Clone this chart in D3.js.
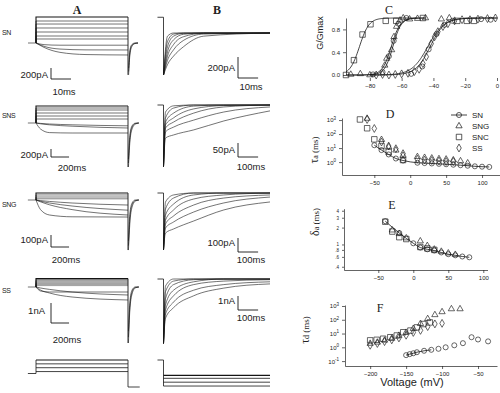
<!DOCTYPE html>
<html>
<head>
<meta charset="utf-8">
<script src="https://cdn.jsdelivr.net/npm/d3@7/dist/d3.min.js"></script>
<style>
  body { margin: 0; background: #fff; }
  svg { display: block; }
  text { font-family: Arial, "Liberation Sans", sans-serif; fill: #222; }
  .tick text { font-size: 6px; }
  .tick line, .domain { stroke: #222; stroke-width: 0.7; }
  .serif { font-family: "Liberation Serif", "DejaVu Serif", serif; }
</style>
</head>
<body>
<svg width="500" height="393"></svg>
<script>
// ---- rows of panels A and B ----
var rowNames = ['SN', 'SNS', 'SNG', 'SS'];
var barCurA = [200, 200, 100, 1];
var barCurALabel = ['200pA', '200pA', '100pA', '1nA'];
var barTimeA = [10, 200, 200, 200];
var barTimeALabel = ['10ms', '200ms', '200ms', '200ms'];
var barCurB = [200, 50, 100, 1];
var barCurBLabel = ['200pA', '50pA', '100pA', '1nA'];
var barTimeB = [10, 100, 100, 100];
var barTimeBLabel = ['10ms', '100ms', '100ms', '100ms'];
var stepDurA = [46, 1020, 1020, 1020];   // ms
var holdLeadA = [-4, -90, -90, -90];     // ms before step
var spanB = [53, 530, 530, 530];         // ms shown in B
var leadB = [-3, -30, -30, -30];
var preB = [150, 0, 0, 0];               // level of the short mark before B

// A: outward steady levels (pA; SS in nA)
var snOut = [473, 400, 345, 273, 200, 127, 73];
var snsOut = [425, 375, 325, 250, 175, 100];
var sngOut = [58, 42, 25, 10];
var ssOut = [0.42, 0.38, 0.33, 0.28, 0.22, 0.17, 0.12, 0.07];

// A: inward traces sampled at shared times
var snInT = [0, 4, 12, 25, 46];
var snIn = [[0, -30, -40, -40, -40], [0, -60, -110, -125, -127], [0, -80, -170, -210, -218]];
var snsInT = [0, 50, 150, 400, 1020];
var snsIn = [[0, -150, -240, -250, -250], [0, -20, -45, -80, -125], [0, -10, -25, -45, -70]];
var sngInT = [0, 50, 150, 400, 1020];
var sngIn = [[0, -80, -125, -140, -142], [0, -15, -40, -80, -125], [0, -10, -25, -50, -85], [0, -5, -12, -25, -42]];
var ssInT = [0, 50, 150, 400, 1020];
var ssIn = [[0, -0.2, -0.25, -0.25, -0.25], [0, -0.05, -0.12, -0.25, -0.4], [0, -0.15, -0.3, -0.5, -0.65]];

// A: tail currents, time after the step end
var snTailT = [0.3, 1, 2, 3.5, 5];
var snTail = [[-580, -200, -60, -10, 0], [-520, -160, -40, -5, 0], [-460, -120, -25, 0, 0]];
var longTailT = [5, 20, 45, 80, 120];
var snsTail = [[-1100, -500, -150, -30, 0], [-1000, -400, -100, -15, 0], [-900, -320, -70, -5, 0]];
var sngTail = [[-417, -200, -60, -10, 0], [-380, -160, -40, -5, 0], [-340, -120, -25, 0, 0]];
var ssTail = [[-2.8, -1.2, -0.35, -0.05, 0], [-2.5, -1.0, -0.25, -0.02, 0], [-2.2, -0.8, -0.15, 0, 0]];

// B: deactivating tails sampled at shared times
var snBT = [0, 2, 5, 10, 20, 53];
var snB = [
  [-400, -30, 0, 0, 0, 0], [-400, -80, -10, 0, 0, 0], [-400, -130, -30, -3, 0, 0],
  [-400, -180, -65, -12, 0, 0], [-400, -220, -110, -35, -3, 0], [-400, -260, -160, -70, -10, 0],
  [-400, -300, -220, -130, -30, 0]];
var longBT = [0, 10, 50, 150, 300, 530];
var snsB = [
  [-220, -25, -3, 0, 0, 0], [-220, -46, -11, 0, 0, 0], [-220, -61, -29, -4, 0, 0],
  [-220, -71, -46, -14, -2, 0], [-220, -82, -61, -29, -7, 0], [-220, -96, -79, -54, -25, -7],
  [-220, -118, -107, -89, -57, -21]];
var sngB = [
  [-407, -64, -14, 0, 0, 0], [-407, -114, -36, 0, 0, 0], [-407, -157, -79, -14, 0, 0],
  [-407, -193, -121, -43, -14, 0], [-407, -221, -164, -86, -36, -14], [-407, -250, -207, -136, -71, -29],
  [-407, -286, -257, -200, -121, -64]];
var ssB = [
  [-4.6, -0.5, 0, 0, 0, 0], [-4.6, -0.9, -0.15, 0, 0, 0], [-4.6, -1.4, -0.4, -0.05, 0, 0],
  [-4.6, -1.85, -0.8, -0.2, 0, 0], [-4.6, -2.2, -1.2, -0.4, -0.15, -0.05], [-4.6, -2.5, -1.65, -0.8, -0.4, -0.2],
  [-4.6, -2.8, -2.05, -1.2, -0.65, -0.35]];

// voltage protocols (mV)
var protoHold = -30, protoStepsA = [40, 20, 0, -20], protoTailA = -100;
var protoPreB = 40, protoStepsB = [-40, -55, -75, -95];

// ---- C: G/Gmax vs voltage ----
var cSNC = [[-95, 0], [-90, 0.26], [-84.6, 0.71], [-79.6, 0.89], [-70, 0.95], [-63.4, 0.95], [-46.6, 1.0], [-25, 0.95], [-19, 0.95], [-14.5, 0.95]];
var cSNG = [[-92, 0.01], [-86, 0.02], [-80, 0], [-70.6, 0.17], [-69.4, 0.29], [-66.3, 0.44], [-64.8, 0.67], [-63.2, 0.85], [-61, 0.96], [-59, 1.0], [-55, 0.98], [-50, 0.99], [-45, 1.0], [-35, 0.98], [-30, 1.0]];
var cSN = [[-78, 0.01], [-72, 0.05], [-68, 0.33], [-65, 0.6], [-62, 0.9], [-57, 1.0], [-54, 0.02], [-47, 0.15], [-43, 0.45], [-38, 0.72], [-33, 0.88], [-28, 0.95], [-10, 0.98], [-4, 0.97]];
var cSS = [[-76, 0], [-72, 0.01], [-68, 0], [-64, 0.01], [-60, 0.02], [-56, 0.03], [-52, 0.06], [-49, 0.1], [-46.6, 0.2], [-44.5, 0.32], [-41.4, 0.55], [-39.3, 0.67], [-37.2, 0.76], [-34, 0.85], [-30.9, 0.9], [-26.7, 0.95], [-22, 0.97], [-17, 0.97], [-12, 0.98], [-6, 0.99], [-1, 1.0]];
var cFitV = [-86.5, -65.5, -66.5, -42, -43.5];
var cFitK = [3, 2.6, 2.8, 4.5, 5];
var cFitFrom = [-95, -95, -95, -80, -80];
var cFitTo = [-50, -45, -45, 0, 0];

// ---- D: tau activation (ms) ----
var dSN = [[-50, 16], [-40, 7.2], [-30, 3.5], [-20, 1.8], [-10, 1.3], [10, 0.9], [20, 0.85], [30, 0.8], [40, 0.75], [50, 0.7], [60, 0.65], [70, 0.6], [80, 0.55], [90, 0.5], [100, 0.47], [110, 0.45]];
var dSNG = [[-60, 1300], [-40, 40], [-30, 12], [-20, 7], [-10, 3], [10, 2.4], [20, 2.1], [30, 1.9], [40, 1.7], [50, 1.6], [60, 1.4], [70, 1.2], [80, 0.85]];
var dSNC = [[-70, 1100], [-60, 260], [-50, 42], [-40, 14], [-30, 5.4], [-10, 1.4]];
var dSS = [[-60, 1100], [-50, 250], [-40, 27], [-30, 14], [-20, 9], [-10, 4], [10, 1.6], [20, 1.4], [30, 1.3], [40, 1.2], [50, 1.1], [60, 1.1]];

// ---- E: delta activation (ms) ----
var eSN = [[-40, 2.6], [-20, 1.6], [0, 1.05], [10, 0.88], [20, 0.82], [30, 0.78], [40, 0.72], [50, 0.67], [60, 0.64], [70, 0.61], [80, 0.59]];
var eSNC = [[-40, 2.55], [-30, 1.7], [-20, 1.35], [-10, 1.25], [10, 0.9], [20, 0.85], [30, 0.8]];
var eSNG = [[-30, 1.8], [-20, 1.55], [-10, 1.3], [10, 1.15], [20, 0.95], [30, 0.82], [40, 0.75], [50, 0.7], [60, 0.66]];

// ---- F: tau deactivation (ms) ----
var fSN = [[-150, 0.27], [-145, 0.32], [-140, 0.37], [-135, 0.44], [-125, 0.56], [-115, 0.66], [-105, 0.78], [-95, 1.0], [-83, 1.4], [-71, 2.0], [-59, 5.4], [-50, 3.7], [-36, 2.7]];
var fSNC = [[-200, 3.2], [-191, 3.5], [-182, 4.2], [-172, 5.4], [-163, 7.2], [-154, 12.4], [-144, 16.4], [-135, 28], [-126, 49], [-117, 64]];
var fSNG = [[-200, 1.9], [-190, 2.3], [-180, 3.2], [-170, 4.4], [-160, 7.2], [-150, 11.8], [-140, 22.8], [-130, 52], [-120, 118], [-110, 228], [-100, 373], [-87, 610], [-75, 610]];
var fSS = [[-200, 1.4], [-190, 1.9], [-180, 2.6], [-170, 3.5], [-160, 4.8], [-150, 7.5], [-140, 12], [-130, 17], [-120, 32], [-110, 50], [-100, 55]];

var outA = [snOut, snsOut, sngOut, ssOut];
var inTA = [snInT, snsInT, sngInT, ssInT];
var inA = [snIn, snsIn, sngIn, ssIn];
var tailTA = [snTailT, longTailT, longTailT, longTailT];
var tailA = [snTail, snsTail, sngTail, ssTail];
var timesB = [snBT, longBT, longBT, longBT];
var tracesB = [snB, snsB, sngB, ssB];

// layout
var layA = [
  {hold: 43, barPx: 11, barBottom: 79, curY: 78, timeX: 64, timeY: 95, labY: 35, w: 0.6},
  {hold: 123, barPx: 8, barBottom: 157, curY: 158, timeX: 72, timeY: 171, labY: 118, w: 0.6},
  {hold: 200, barPx: 12, barBottom: 247, curY: 243, timeX: 66, timeY: 263, labY: 207, w: 0.55},
  {hold: 287, barPx: 20, barBottom: 323, curY: 314, timeX: 67, timeY: 343, labY: 293, w: 0.4}
];
var layB = [
  {base: 33, barPx: 21, barBottom: 78, curY: 71, timeY: 90},
  {base: 105, barPx: 14, barBottom: 157, curY: 153, timeY: 170},
  {base: 193, barPx: 14, barBottom: 252, curY: 246, timeY: 263},
  {base: 279, barPx: 14, barBottom: 310, curY: 304, timeY: 321}
];

var svg = d3.select('svg');
var INK = '#151515';

function draw(g, pts, x, y, curve, w) {
  g.append('path')
    .datum(pts)
    .attr('d', d3.line()
      .x(function (d) { return x(d[0]); })
      .y(function (d) { return y(d[1]); })
      .curve(curve || d3.curveLinear))
    .attr('fill', 'none')
    .attr('stroke', INK)
    .attr('stroke-width', w || 0.6);
}
function zip(ts, vs, off) {
  return ts.map(function (t, i) { return [t + (off || 0), vs[i]]; });
}
function label(g, x, y, s, size, anchor) {
  return g.append('text').attr('x', x).attr('y', y).attr('font-size', size)
    .attr('text-anchor', anchor || 'start').text(s);
}

// column titles
label(svg, 77, 14, 'A', 12, 'middle').attr('class', 'serif').attr('font-weight', 'bold');
label(svg, 217, 14, 'B', 12, 'middle').attr('class', 'serif').attr('font-weight', 'bold');

// ---- panel A rows ----
rowNames.forEach(function (name, r) {
  var g = svg.append('g');
  var L = layA[r];
  var x = d3.scaleLinear().domain([0, stepDurA[r]]).range([36, 128]);
  var y = d3.scaleLinear().domain([0, barCurA[r]]).range([L.hold, L.hold - L.barPx]);
  var dur = stepDurA[r];

  label(g, 2, L.labY, name, 7).attr('letter-spacing', -0.3);
  draw(g, [[holdLeadA[r], 0], [0, 0]], x, y);

  outA[r].forEach(function (v, i) {
    draw(g, [[0, 0], [0, v], [dur, v]], x, y, null, i === 0 ? 1.1 : L.w);
  });
  inA[r].forEach(function (vs) {
    draw(g, zip(inTA[r], vs), x, y, d3.curveMonotoneX);
  });
  var lowest = d3.min(tailA[r], function (t) { return t[0]; });
  draw(g, [[dur, d3.max(outA[r])], [dur, lowest]], x, y, null, 0.9);
  tailA[r].forEach(function (vs) {
    draw(g, zip(tailTA[r], vs, dur), x, y, d3.curveMonotoneX);
  });

  // scale bar
  var bx = 51, bb = L.barBottom;
  var tb = d3.scaleLinear().domain([0, stepDurA[r]]).range([0, 92]);
  g.append('path')
    .attr('d', 'M' + bx + ',' + (bb - L.barPx) + 'V' + bb + 'H' + (bx + tb(barTimeA[r])))
    .attr('fill', 'none').attr('stroke', INK).attr('stroke-width', 0.9);
  label(g, r === 3 ? 45 : 48, L.curY, barCurALabel[r], 9.5, 'end');
  label(g, L.timeX, L.timeY, barTimeALabel[r], 9.5, 'middle');
});

// ---- panel B rows ----
rowNames.forEach(function (name, r) {
  var g = svg.append('g');
  var L = layB[r];
  var x = d3.scaleLinear().domain([0, spanB[r]]).range([163.5, 270]);
  var y = d3.scaleLinear().domain([0, barCurB[r]]).range([L.base, L.base - L.barPx]);
  var bottom = tracesB[r][0][0];

  draw(g, [[leadB[r], preB[r]], [0, preB[r]], [0, bottom]], x, y, null, 0.8);
  tracesB[r].forEach(function (vs) {
    draw(g, zip(timesB[r], vs), x, y, d3.curveMonotoneX);
  });

  var bx = 238, bb = L.barBottom;
  var tb = d3.scaleLinear().domain([0, spanB[r]]).range([0, 106.5]);
  g.append('path')
    .attr('d', 'M' + bx + ',' + (bb - L.barPx) + 'V' + bb + 'H' + (bx + tb(barTimeB[r])))
    .attr('fill', 'none').attr('stroke', INK).attr('stroke-width', 0.9);
  label(g, 235, L.curY, barCurBLabel[r], 9.5, 'end');
  label(g, 251, L.timeY, barTimeBLabel[r], 9.5, 'middle');
});

// ---- voltage protocols ----
(function () {
  var g = svg.append('g');
  var yV = d3.scaleLinear().domain([-100, 40]).range([387, 360]);
  var xA = d3.scaleLinear().domain([0, 1020]).range([36, 128]);
  var xB = d3.scaleLinear().domain([0, 530]).range([163.5, 270]);
  draw(g, [[-90, protoHold], [0, protoHold], [0, d3.max(protoStepsA)]], xA, yV, null, 0.8);
  protoStepsA.forEach(function (v, i) {
    draw(g, [[0, v], [1020, v]], xA, yV, null, i === 0 ? 1.2 : 0.8);
  });
  draw(g, [[1020, d3.max(protoStepsA)], [1020, protoTailA], [1150, protoTailA]], xA, yV, null, 0.8);
  draw(g, [[-30, protoPreB], [0, protoPreB], [0, d3.min(protoStepsB)]], xB, yV, null, 0.8);
  protoStepsB.forEach(function (v, i) {
    draw(g, [[0, v], [530, v]], xB, yV, null, i === 0 ? 1.3 : 0.8);
  });
})();

// ---- marker helpers ----
var shapes = {
  circle: d3.symbol().type(d3.symbolCircle).size(20),
  triangle: d3.symbol().type(d3.symbolTriangle).size(17),
  square: d3.symbol().type(d3.symbolSquare).size(30),
  diamond: d3.symbol().type(d3.symbolDiamond).size(18)
};
function points(g, data, x, y, shape) {
  g.selectAll(null).data(data).enter().append('path')
    .attr('d', shapes[shape])
    .attr('transform', function (d) { return 'translate(' + x(d[0]) + ',' + y(d[1]) + ')'; })
    .attr('fill', 'none').attr('stroke', INK).attr('stroke-width', 0.65);
}
function powLabels(ax) {
  ax.selectAll('.tick text').each(function (d) {
    var t = d3.select(this);
    t.text('10');
    t.append('tspan').attr('dy', -2.5).attr('font-size', '4.5px').text(Math.round(Math.log10(d)));
  });
}
function yTitle(g, x, y, main, sub, rest, size) {
  var t = g.append('text').attr('class', 'serif')
    .attr('transform', 'translate(' + x + ',' + y + ') rotate(-90)')
    .attr('text-anchor', 'middle').attr('font-size', size);
  t.append('tspan').attr('font-size', size + 3).text(main);
  t.append('tspan').attr('font-size', size - 1).text(sub);
  t.append('tspan').text(rest);
}

// ---- C ----
(function () {
  var g = svg.append('g');
  var x = d3.scaleLinear().domain([-95, 0]).range([346, 497]);
  var y = d3.scaleLinear().domain([0, 1]).range([75, 18]);
  g.append('g').attr('transform', 'translate(346,0)')
    .call(d3.axisLeft(y).tickValues([0, 0.4, 0.8]).tickFormat(d3.format('.1f')).tickSize(3).tickSizeOuter(0));
  g.append('g').attr('transform', 'translate(0,78)')
    .call(d3.axisBottom(x).tickValues([-80, -60, -40, -20, 0]).tickSize(3))
    .select('.domain').remove();
  cFitV.forEach(function (vh, i) {
    var pts = d3.range(cFitFrom[i], cFitTo[i] + 0.1, 0.5).map(function (v) {
      return [v, 1 / (1 + Math.exp((vh - v) / cFitK[i]))];
    });
    draw(g, pts, x, y, null, 0.8);
  });
  points(g, cSNC, x, y, 'square');
  points(g, cSNG, x, y, 'triangle');
  points(g, cSN, x, y, 'circle');
  points(g, cSS, x, y, 'diamond');
  label(g, 389, 14, 'C', 12, 'middle').attr('class', 'serif');
  g.append('text').attr('transform', 'translate(323,33) rotate(-90)')
    .attr('text-anchor', 'middle').attr('font-size', 9).text('G/Gmax');
})();

// ---- D ----
(function () {
  var g = svg.append('g');
  var x = d3.scaleLinear().domain([-95, 125]).range([342, 500]);
  var y = d3.scaleLog().domain([0.12, 1400]).range([175, 118]);
  var ay = g.append('g').attr('transform', 'translate(342,0)')
    .call(d3.axisLeft(y).tickValues([1, 10, 100, 1000]).tickSize(3).tickSizeOuter(0));
  powLabels(ay);
  g.append('g').attr('transform', 'translate(0,175)')
    .call(d3.axisBottom(x).tickValues([-50, 0, 50, 100]).tickSize(3).tickSizeOuter(0));
  draw(g, dSN, x, y, d3.curveMonotoneX, 0.8);
  points(g, dSN, x, y, 'circle');
  points(g, dSNG, x, y, 'triangle');
  points(g, dSNC, x, y, 'square');
  points(g, dSS, x, y, 'diamond');
  label(g, 390, 118, 'D', 12, 'middle').attr('class', 'serif');
  yTitle(g, 318, 150, 'τ', 'a', ' (ms)', 9);

  var names = ['SN', 'SNG', 'SNC', 'SS'];
  var kinds = ['circle', 'triangle', 'square', 'diamond'];
  var ly = d3.scalePoint().domain(names).range([115, 148]);
  g.append('line').attr('x1', 451).attr('x2', 467).attr('y1', ly('SN')).attr('y2', ly('SN'))
    .attr('stroke', INK).attr('stroke-width', 0.8);
  names.forEach(function (n, i) {
    g.append('path').attr('d', shapes[kinds[i]])
      .attr('transform', 'translate(459,' + ly(n) + ')')
      .attr('fill', 'none').attr('stroke', INK).attr('stroke-width', 0.7);
    label(g, 472, ly(n) + 3, n, 8);
  });
})();

// ---- E ----
(function () {
  var g = svg.append('g');
  var x = d3.scaleLinear().domain([-99, 106]).range([344, 487.5]);
  var y = d3.scaleLog().domain([0.35, 4.35]).range([270, 208.7]);
  var names = {4: '4', 3: '3', 2: '2', 1: '1', 0.8: '.8', 0.6: '.6', 0.4: '.4'};
  var ay = g.append('g').attr('transform', 'translate(344,0)')
    .call(d3.axisLeft(y).tickValues([0.4, 0.6, 0.8, 1, 2, 3, 4])
      .tickFormat(function (d) { return names[d]; }).tickSize(2).tickSizeOuter(0));
  ay.selectAll('.tick text').style('font-size', '4.5px');
  g.append('g').attr('transform', 'translate(0,270)')
    .call(d3.axisBottom(x).tickValues([-50, 0, 50, 100]).tickSize(3).tickSizeOuter(0));
  draw(g, eSN, x, y, d3.curveMonotoneX, 0.8);
  points(g, eSN, x, y, 'circle');
  points(g, eSNC, x, y, 'square');
  points(g, eSNG, x, y, 'triangle');
  label(g, 392, 209, 'E', 12, 'middle').attr('class', 'serif');
  yTitle(g, 319, 222, 'δ', 'a', ' (ms)', 9);
})();

// ---- F ----
(function () {
  var g = svg.append('g');
  var x = d3.scaleLinear().domain([-235, -23.6]).range([345, 497]);
  var y = d3.scaleLog().domain([0.044, 1180]).range([366, 305]);
  var ay = g.append('g').attr('transform', 'translate(345,0)')
    .call(d3.axisLeft(y).tickValues([0.1, 1, 10, 100, 1000]).tickSize(3).tickSizeOuter(0));
  powLabels(ay);
  g.append('g').attr('transform', 'translate(0,366)')
    .call(d3.axisBottom(x).tickValues([-200, -150, -100, -50]).tickSize(3).tickSizeOuter(0));
  draw(g, fSN.slice(0, 6), x, y, null, 0.8);
  points(g, fSN, x, y, 'circle');
  points(g, fSNC, x, y, 'square');
  points(g, fSNG, x, y, 'triangle');
  points(g, fSS, x, y, 'diamond');
  label(g, 380, 312, 'F', 12, 'middle').attr('class', 'serif');
  yTitle(g, 309, 330, 'τ', 'd', ' (ms)', 9);
  label(g, 412, 386, 'Voltage  (mV)', 11, 'middle');
})();
</script>
</body>
</html>
